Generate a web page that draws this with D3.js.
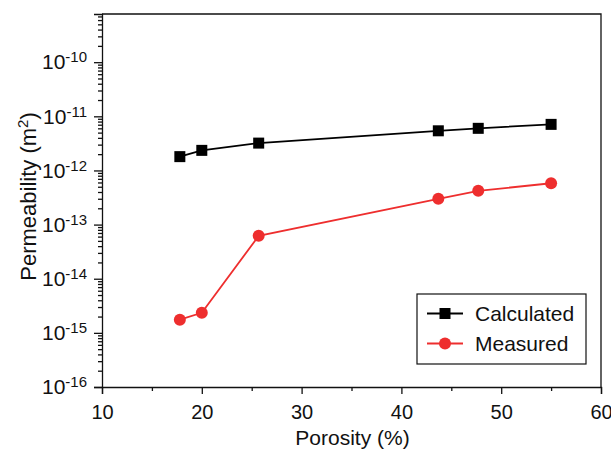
<!DOCTYPE html>
<html>
<head>
<meta charset="utf-8">
<script src="https://cdn.jsdelivr.net/npm/d3@7"></script>
<style>
  body { margin: 0; background: #fff; }
  text { font-family: "Liberation Sans", Arial, sans-serif; fill: #111; }
</style>
</head>
<body>
<div id="chart"></div>
<script>
// porosity (%) for each sample
const porosity = [17.8, 20.0, 25.7, 43.7, 47.7, 55.0];
// permeability (m^2)
const calculated = [1.8e-12, 2.35e-12, 3.2e-12, 5.4e-12, 6.0e-12, 7.1e-12];
const measured = [1.75e-15, 2.35e-15, 6.2e-14, 3.0e-13, 4.2e-13, 5.8e-13];
const xTicks = [10, 20, 30, 40, 50, 60];
const yExponents = [-16, -15, -14, -13, -12, -11, -10];

const width = 611;
const height = 450;
const margin = { top: 14, right: 10, bottom: 63, left: 102 };
const innerWidth = width - margin.left - margin.right;
const innerHeight = height - margin.top - margin.bottom;

const svg = d3.select('#chart')
  .append('svg')
  .attr('width', width)
  .attr('height', height)
  .style('display', 'block');

const g = svg.append('g')
  .attr('transform', `translate(${margin.left},${margin.top})`);

const x = d3.scaleLinear().domain([10, 60]).range([0, innerWidth]);
const y = d3.scaleLog().domain([1e-16, Math.pow(10, -9.11)]).range([innerHeight, 0]);

// minor ticks
const xMinor = d3.range(15, 60, 10);
const yMinor = [];
for (let e = -16; e <= -10; e++) {
  for (let m = 2; m <= 9; m++) {
    const v = m * Math.pow(10, e);
    if (v <= y.domain()[1]) yMinor.push(v);
  }
}

g.append('g')
  .attr('transform', `translate(0,${innerHeight})`)
  .call(d3.axisBottom(x).tickValues(xMinor).tickSize(4).tickFormat(''))
  .call(a => a.select('.domain').remove())
  .call(a => a.selectAll('text').remove());

g.append('g')
  .call(d3.axisLeft(y).tickValues(yMinor).tickSize(4).tickFormat(''))
  .call(a => a.select('.domain').remove())
  .call(a => a.selectAll('text').remove());

// major axes
const xAxis = g.append('g')
  .attr('transform', `translate(0,${innerHeight})`)
  .call(d3.axisBottom(x).tickValues(xTicks).tickSize(7).tickPadding(11).tickFormat(d3.format('d')));

const yAxis = g.append('g')
  .call(d3.axisLeft(y).tickValues(yExponents.map(e => Math.pow(10, e))).tickSize(8).tickPadding(7).tickFormat(''));

yAxis.selectAll('.tick text').each(function (d) {
  const t = d3.select(this);
  t.text('10');
  t.append('tspan')
    .attr('dy', '-7')
    .text(Math.round(Math.log10(d)));
});

xAxis.selectAll('text').attr('font-size', '20px').attr('fill', '#111');
yAxis.selectAll('text').attr('font-size', '21px').attr('fill', '#111');
yAxis.selectAll('.tick text tspan').attr('font-size', '15px');
[xAxis, yAxis].forEach(a => a.select('.domain').attr('stroke', '#111').attr('stroke-width', 1.3));
g.selectAll('.tick line').attr('stroke', '#111').attr('stroke-width', 1.3);

// frame (top / right)
g.append('path')
  .attr('d', `M0,0H${innerWidth}V${innerHeight}`)
  .attr('fill', 'none')
  .attr('stroke', '#111')
  .attr('stroke-width', 1.3);

// axis titles
g.append('text')
  .attr('x', innerWidth / 2 + 1)
  .attr('y', innerHeight + 58)
  .attr('text-anchor', 'middle')
  .attr('font-size', '21px')
  .text('Porosity (%)');

const yTitle = svg.append('text')
  .attr('transform', 'translate(35.5,196.5) rotate(-90)')
  .attr('text-anchor', 'middle')
  .attr('font-size', '22px')
  .text('Permeability (m');
yTitle.append('tspan').attr('dy', '-8').attr('font-size', '15px').text('2');
yTitle.append('tspan').attr('dy', '8').text(')');

// series
const black = '#000';
const red = '#ee2e2e';

const line = d3.line()
  .x(d => x(d[0]))
  .y(d => y(d[1]));

g.append('path')
  .datum(d3.zip(porosity, calculated))
  .attr('d', line)
  .attr('fill', 'none')
  .attr('stroke', black)
  .attr('stroke-width', 1.8);

g.append('path')
  .datum(d3.zip(porosity, measured))
  .attr('d', line)
  .attr('fill', 'none')
  .attr('stroke', red)
  .attr('stroke-width', 1.8);

g.selectAll('.sq')
  .data(d3.zip(porosity, calculated))
  .enter()
  .append('rect')
  .attr('class', 'sq')
  .attr('x', d => x(d[0]) - 5.5)
  .attr('y', d => y(d[1]) - 5.5)
  .attr('width', 11)
  .attr('height', 11)
  .attr('fill', black);

g.selectAll('.dot')
  .data(d3.zip(porosity, measured))
  .enter()
  .append('circle')
  .attr('class', 'dot')
  .attr('cx', d => x(d[0]))
  .attr('cy', d => y(d[1]))
  .attr('r', 6)
  .attr('fill', red);

// legend
const legend = svg.append('g').attr('transform', 'translate(417,294)');
legend.append('rect')
  .attr('width', 169)
  .attr('height', 70)
  .attr('fill', '#fff')
  .attr('stroke', '#111')
  .attr('stroke-width', 1.2);

const items = [
  { name: 'Calculated', color: black, shape: 'square' },
  { name: 'Measured', color: red, shape: 'circle' }
];
items.forEach((item, i) => {
  const row = legend.append('g').attr('transform', `translate(0,${19.5 + i * 30})`);
  row.append('line')
    .attr('x1', 10).attr('x2', 46)
    .attr('stroke', item.color)
    .attr('stroke-width', 1.8);
  if (item.shape === 'square') {
    row.append('rect').attr('x', 22.5).attr('y', -5.5).attr('width', 11).attr('height', 11).attr('fill', item.color);
  } else {
    row.append('circle').attr('cx', 28).attr('r', 6).attr('fill', item.color);
  }
  row.append('text')
    .attr('x', 58)
    .attr('dy', '0.35em')
    .attr('font-size', '21px')
    .text(item.name);
});
</script>
</body>
</html>
